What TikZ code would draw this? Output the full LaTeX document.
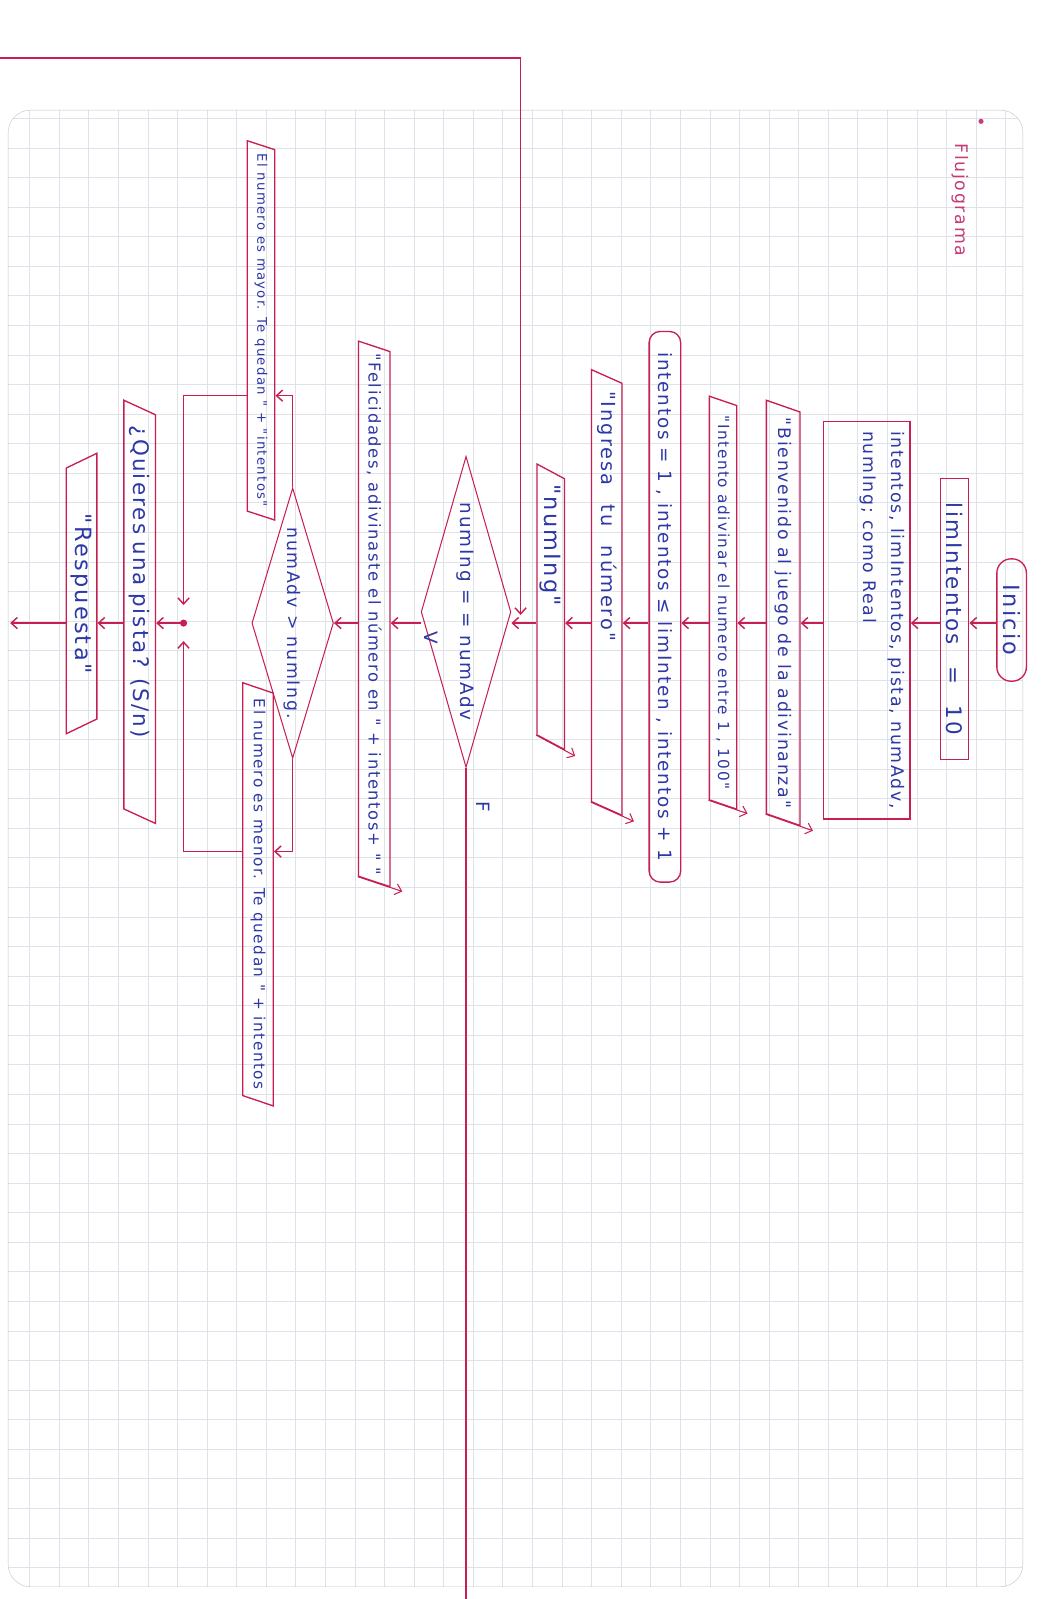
\documentclass[tikz,border=0pt]{standalone}
\usepackage{fontspec}
\setmainfont[LetterSpace=10, Ligatures=TeXOff]{DejaVu Sans}
\usetikzlibrary{shapes.geometric,arrows.meta,calc}
\definecolor{tinta}{RGB}{200,30,82}
\definecolor{azul}{RGB}{45,55,165}
\definecolor{rosa}{RGB}{196,60,120}
\definecolor{cuadro}{RGB}{222,226,234}

\begin{document}
\begin{tikzpicture}[x=1pt,y=-1pt,
		linea/.style={draw=tinta, line width=1.4pt},
		flecha/.style={linea, -{Straight Barb[length=6pt,width=11pt]}},
		txt/.style={text=azul, rotate=-90, inner sep=0pt},
		letra/.style={font=\fontsize{#1}{#1}\selectfont},
		caja/.style={txt, draw=tinta, line width=1.3pt},
		salida/.style={caja, trapezium, trapezium left angle=55, trapezium right angle=125, trapezium stretches body},
		entrada/.style={caja, trapezium, trapezium left angle=125, trapezium right angle=55, trapezium stretches body},
		decision/.style={caja, diamond, line width=1pt}]
			\useasboundingbox (0,0) rectangle (1037,1568);
			\fill[white] (0,0) rectangle (1037,1568);
			% Hoja cuadriculada
			\begin{scope}
				\clip[rounded corners=22pt] (8,108) rectangle (1003,1556);
				\draw[cuadro, line width=0.5pt, step=29pt] (8,108) grid (1003,1556);
			\end{scope}
			\draw[cuadro!70!gray, rounded corners=22pt] (8,108) rectangle (1003,1556);
			% Titulo
			\fill[rosa] (962,119) circle (2.5);
			\node[txt, text=rosa, letra=17] (titulo) at (942,196) {Flujograma};
			% Bloques
			\node[caja, rounded corners=14pt, minimum width=120, minimum height=29, letra=22] (inicio) at (992,608) {Inicio};
			\node[caja, minimum width=275, minimum height=28, letra=21] (lim) at (936,607) {limIntentos\quad=\quad10};
			\node[caja, minimum width=390, minimum height=85, align=left, font=\fontsize{17}{28}\selectfont] (decl) at (850,608) {intentos, limIntentos, pista, numAdv,\\numIng; como Real\\[6pt]\mbox{}};
			\node[salida, minimum width=417, minimum height=33, letra=17] (bien) at (768,601) {"Bienvenido al juego de la adivinanza"};
			\node[salida, minimum width=405, minimum height=27, letra=15] (intento) at (709,591) {"Intento adivinar el numero entre 1 , 100"};
			\node[caja, rounded corners=11pt, minimum width=540, minimum height=31, letra=18] (intentos) at (652,595) {intentos = 1 , intentos ≤ limInten , intentos + 1};
			\node[salida, minimum width=437, minimum height=30, text width=395, align=left, letra=19] (ingresa) at (595,581) {"Ingresa\quad tu\quad número"};
			\node[salida, minimum width=280, minimum height=27, text width=240, align=left, letra=22] (numing) at (540,595) {"numIng"};
			\node[decision, aspect=3.5, minimum width=305, minimum height=88, letra=18] (d1) at (457,600) {numIng = = numAdv};
			\node[salida, minimum width=535, minimum height=31, letra=16] (felic) at (367,602) {"Felicidades, adivinaste el número en " + intentos+ " "};
			\node[decision, aspect=3.3, minimum width=265, minimum height=80, letra=17] (d2) at (287,611) {numAdv > numIng.};
			\node[salida, minimum width=372, minimum height=27, letra=13] (mayor) at (256,324) {El numero es mayor. Te quedan " + "intentos"};
			\node[salida, minimum width=415, minimum height=30, letra=15] (menor) at (253,877) {El numero es menor. Te quedan " + intentos};
			\node[fill=tinta, circle, inner sep=0pt, minimum size=7] (union) at (180,611) {};
			\node[salida, minimum width=415, minimum height=31, text width=365, align=left, letra=21] (quieres) at (137,600) {¿Quieres una pista? (S/n)};
			\node[entrada, minimum width=275, minimum height=30, letra=22] (resp) at (80,582) {"Respuesta"};
			% Etiquetas V y F
			\node[txt, letra=18] (etqV) at ($(d1.south)+(10,25)$) {V};
			\node[txt, letra=18] (etqF) at ($(d1.east)+(17,38)$) {F};
			% Flechas
			\coordinate (eje) at (0,611);
			\foreach \a/\b in {inicio/lim, lim/decl, decl/bien, bien/intento, intento/intentos, intentos/ingresa, ingresa/numing, numing/d1, d1/felic, felic/d2, union/quieres, quieres/resp}
				\draw[flecha] (\a.south |- eje) -- (\b.north |- eje);
			\foreach \n in {bien, intento, ingresa, numing, felic}
				\draw[flecha, line width=1pt] (\n.bottom right corner) -- ($(\n.bottom right corner)!1.35!(\n.top right corner)$);
			\coordinate (retorno) at (0,57);
			\draw[flecha] (retorno) -| ($(d1.north)+(9,3)$);
			\coordinate (fondo) at (0,1568);
			\draw[linea] (d1.east) -- (d1.east |- fondo);
			\coordinate (nivelMayor) at (0,388);
			\coordinate (nivelMenor) at (0,835);
			\draw[flecha] (d2.west) |- (mayor.north |- nivelMayor);
			\draw[flecha] (d2.east) |- (menor.north |- nivelMenor);
			\draw[flecha, shorten >=14pt] (mayor.south |- nivelMayor) -| (union);
			\draw[flecha, shorten >=14pt] (menor.south |- nivelMenor) -| (union);
			\coordinate (salidaFin) at (10,611);
			\draw[flecha] (resp.south |- eje) -- (salidaFin);
		\end{tikzpicture}
\end{document}
